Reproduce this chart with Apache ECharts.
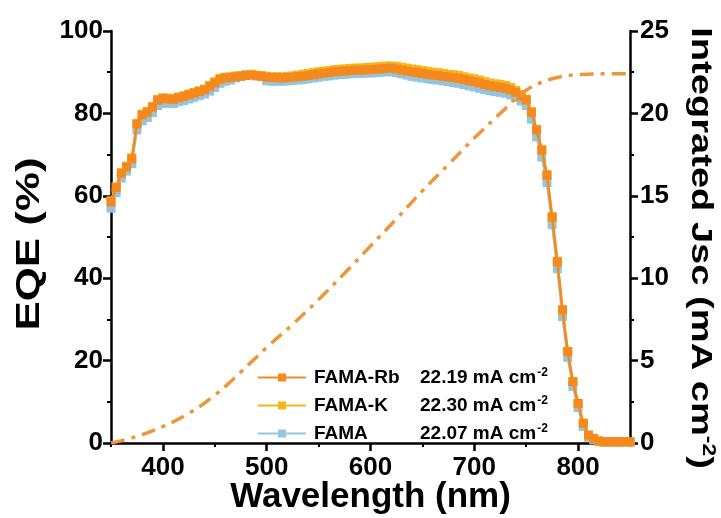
<!DOCTYPE html>
<html>
<head>
<meta charset="utf-8">
<script src="https://cdn.jsdelivr.net/npm/echarts@6/dist/echarts.min.js"></script>
<style>
html,body{margin:0;padding:0;background:#fff;}
#chart{width:721px;height:518px;}
</style>
</head>
<body>
<div id="chart"></div>
<script>
// Wavelength grid (nm)
const wavelengths = [
 350,355,360,365,370,375,380,385,390,395,
 400,405,410,415,420,425,430,435,440,445,
 450,455,460,465,470,475,480,485,490,495,
 500,505,510,515,520,525,530,535,540,545,
 550,555,560,565,570,575,580,585,590,595,
 600,605,610,615,620,625,630,635,640,645,
 650,655,660,665,670,675,680,685,690,695,
 700,705,710,715,720,725,730,735,740,745,
 750,755,760,765,770,775,780,785,790,795,
 800,805,810,815,820,825,830,835,840,845,
 850];

// EQE (%)
const eqeRb = [
 58.5,62.0,65.5,67.0,69.0,77.4,79.6,80.3,81.5,83.2,
 83.6,83.5,83.4,83.8,84.1,84.5,84.9,85.3,85.7,86.5,
 87.4,88.3,88.6,88.7,88.9,89.0,89.2,89.3,89.1,89.0,
 88.8,88.7,88.7,88.6,88.7,88.8,88.9,89.0,89.2,89.4,
 89.6,89.8,89.9,90.1,90.2,90.3,90.4,90.5,90.5,90.6,
 90.6,90.7,90.8,90.9,91.0,90.8,90.5,90.3,90.1,89.9,
 89.7,89.5,89.3,89.2,89.0,88.8,88.7,88.5,88.2,87.9,
 87.7,87.4,87.0,86.7,86.5,86.3,86.1,85.7,85.1,84.2,
 83.3,80.3,76.0,71.1,65.0,54.8,44.0,32.3,22.2,14.9,
 9.6,4.8,1.9,1.1,0.5,0.3,0.3,0.3,0.3,0.3,
 0.3];
const eqeK = [
 58.8,62.2,65.6,67.2,69.2,77.6,79.8,80.5,81.7,83.4,
 83.8,83.7,83.6,84.0,84.3,84.7,85.1,85.5,85.9,86.8,
 87.7,88.5,88.8,88.9,89.1,89.2,89.4,89.5,89.3,89.2,
 89.0,88.9,88.9,88.9,89.0,89.1,89.3,89.5,89.7,89.9,
 90.1,90.3,90.4,90.6,90.7,90.8,90.9,91.0,91.0,91.1,
 91.2,91.3,91.4,91.5,91.5,91.4,91.2,91.0,90.8,90.6,
 90.4,90.2,90.0,89.9,89.7,89.5,89.4,89.2,88.9,88.6,
 88.4,88.1,87.7,87.4,87.2,87.0,86.8,86.3,85.6,84.6,
 83.5,80.4,76.1,71.2,65.1,54.9,44.1,32.3,22.2,14.9,
 9.6,4.8,1.9,1.1,0.5,0.3,0.3,0.3,0.3,0.3,
 0.3];
const eqeFAMA = [
 57.0,60.8,64.3,66.0,67.8,76.0,78.2,79.0,80.2,81.9,
 82.4,82.4,82.4,82.8,83.1,83.5,83.9,84.3,84.7,85.4,
 86.3,87.3,87.8,88.1,88.6,89.0,89.3,89.4,89.2,89.0,
 87.9,87.8,87.8,87.8,87.9,88.0,88.1,88.2,88.4,88.6,
 88.8,89.0,89.1,89.3,89.4,89.5,89.6,89.7,89.7,89.8,
 89.8,89.9,90.0,90.1,90.1,89.9,89.6,89.3,89.0,88.8,
 88.6,88.4,88.2,88.1,87.9,87.7,87.5,87.3,87.0,86.7,
 86.4,86.1,85.8,85.5,85.3,85.1,84.9,84.5,83.9,83.0,
 81.9,78.6,74.3,69.4,63.2,53.0,42.3,30.7,20.8,13.7,
 8.6,4.0,1.4,0.8,0.3,0.2,0.2,0.2,0.2,0.2,
 0.2];

// Integrated Jsc (mA cm-2)
const jscWavelengths = [350,375,400,425,450,475,500,525,550,575,600,625,650,675,700,725,750,775,800,825,850];
const jscValues = [0,0.4,1.0,1.8,2.9,4.3,5.8,7.2,8.7,10.3,11.95,13.6,15.3,16.9,18.5,20.0,21.4,22.1,22.35,22.4,22.4];

const seriesNames = ['FAMA-Rb','FAMA-K','FAMA'];
const seriesJsc = ['22.19','22.30','22.07'];

const xLabelValues = [400,500,600,700,800];
const xMinorValues = [350,450,550,650,750,850];

const FONT = '"Liberation Sans", Arial, sans-serif';
function pairs(xs, ys){ return xs.map((x,i)=>[x, ys[i]]); }

const chart = echarts.init(document.getElementById('chart'), null, {renderer:'canvas'});

const eqeSeries = (name, data, color, z) => ({
  name, type:'line', data: pairs(wavelengths, data), yAxisIndex:0, xAxisIndex:0,
  symbol:'rect', symbolSize:9, showSymbol:true,
  itemStyle:{color}, lineStyle:{color, width:2.5}, z, animation:false
});

chart.setOption({
  animation:false,
  grid:{left:111, right:91, top:31, bottom:75, containLabel:false, outerBoundsMode:'none'},
  legend:{
    orient:'vertical', left:252, top:362, itemGap:8, itemWidth:48, itemHeight:10,
    data: seriesNames,
    formatter: function(name){
      const i = seriesNames.indexOf(name);
      return '{n|' + name + '}{v|' + seriesJsc[i] + ' mA cm}{s|-2}';
    },
    textStyle:{
      fontFamily:FONT, fontWeight:'bold', fontSize:19, color:'#000', padding:[0,0,0,3],
      rich:{
        n:{fontFamily:FONT, fontWeight:'bold', fontSize:19, color:'#000', width:106, lineHeight:21},
        v:{fontFamily:FONT, fontWeight:'bold', fontSize:19, color:'#000', lineHeight:21},
        s:{fontFamily:FONT, fontWeight:'bold', fontSize:12, color:'#000', verticalAlign:'top', lineHeight:21, padding:[0,0,0,1]}
      }
    }
  },
  graphic:[
    {type:'text', x:30, y:244, rotation:Math.PI/2, scaleX:1.33, z:10,
     style:{text:'EQE (%)', fontFamily:FONT, fontWeight:'bold', fontSize:33, fill:'#000', align:'center', verticalAlign:'middle'}},
    {type:'text', x:700, y:248, rotation:-Math.PI/2, scaleX:1.27, z:10,
     style:{text:'Integrated Jsc (mA cm{s|-2})', fontFamily:FONT, fontWeight:'bold', fontSize:30, fill:'#000', align:'center', verticalAlign:'middle',
       rich:{s:{fontFamily:FONT, fontWeight:'bold', fontSize:18, fill:'#000', verticalAlign:'top', lineHeight:34}}}}
  ],
  xAxis:[{
    type:'value', min:350, max:850, position:'bottom',
    axisLine:{show:true, lineStyle:{color:'#000', width:2.5}},
    axisTick:{show:true, customValues:xLabelValues, length:8, lineStyle:{color:'#000', width:2.5}},
    axisLabel:{customValues:xLabelValues, fontFamily:FONT, fontWeight:'bold', fontSize:26, color:'#000', margin:12},
    splitLine:{show:false},
    name:'Wavelength (nm)', nameLocation:'middle', nameGap:37, nameMoveOverlap:false,
    nameTextStyle:{fontFamily:FONT, fontWeight:'bold', fontSize:35, color:'#000'}
  },{
    type:'value', min:350, max:850, position:'bottom',
    axisLine:{show:false},
    axisTick:{show:true, customValues:xMinorValues, length:4, lineStyle:{color:'#000', width:2}},
    axisLabel:{show:false}, splitLine:{show:false}
  }],
  yAxis:[{
    type:'value', min:0, max:100, interval:20, position:'left',
    axisLine:{show:true, lineStyle:{color:'#000', width:2.5}},
    axisTick:{show:true, length:8, lineStyle:{color:'#000', width:2.5}},
    minorTick:{show:true, splitNumber:2, length:4, lineStyle:{color:'#000', width:2}},
    axisLabel:{fontFamily:FONT, fontWeight:'bold', fontSize:26, color:'#000', margin:8},
    splitLine:{show:false}
  },{
    type:'value', min:0, max:25, interval:5, position:'right',
    axisLine:{show:true, lineStyle:{color:'#000', width:2.5}},
    axisTick:{show:true, length:8, lineStyle:{color:'#000', width:2.5}},
    minorTick:{show:true, splitNumber:2, length:4, lineStyle:{color:'#000', width:2}},
    axisLabel:{fontFamily:FONT, fontWeight:'bold', fontSize:26, color:'#000', margin:10},
    splitLine:{show:false}
  }],
  series:[
    eqeSeries('FAMA', eqeFAMA, '#93C5E0', 2),
    eqeSeries('FAMA-K', eqeK, '#F6B71B', 3),
    eqeSeries('FAMA-Rb', eqeRb, '#F5891E', 4),
    {
      name:'Integrated', type:'line', data: pairs(jscWavelengths, jscValues), yAxisIndex:1, xAxisIndex:0,
      symbol:'none', smooth:0.4, z:5,
      lineStyle:{color:'#EC983A', width:3.5, type:[14,7,4,7]}
    }
  ]
});
</script>
</body>
</html>
